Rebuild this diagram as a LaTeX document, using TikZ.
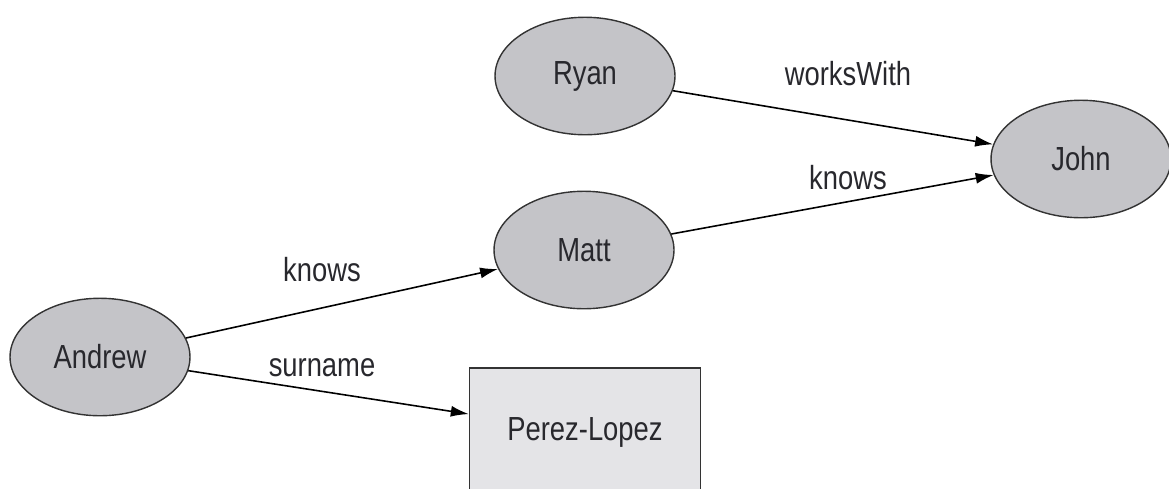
\documentclass[tikz,border=0pt]{standalone}
\usepackage{fontspec}
\setmainfont{Liberation Sans}[FakeStretch=0.82]
\usetikzlibrary{shapes.geometric, arrows.meta}
\definecolor{nodegray}{RGB}{196,196,200}
\definecolor{boxgray}{RGB}{228,228,231}
\definecolor{txtgray}{RGB}{40,40,45}
\tikzset{
  res/.style={ellipse, draw=black!80, fill=nodegray, line width=0.8pt,
    minimum width=3.6cm, minimum height=2.35cm, text=txtgray, font=\fontsize{19}{22}\selectfont},
  lit/.style={rectangle, draw=black!80, fill=boxgray, line width=0.8pt,
    minimum width=4.62cm, minimum height=2.56cm, text=txtgray, font=\fontsize{19}{22}\selectfont},
  lbl/.style={text=txtgray, font=\fontsize{19}{22}\selectfont},
}
\begin{document}
\begin{tikzpicture}[x=0.02cm, y=-0.02cm, >={Latex[length=3.6mm, width=2.2mm]}]
  \useasboundingbox (0,0) rectangle (1169,488);
  \node [res] (ryan) at (585,76) {Ryan};
  \node [res] (john) at (1081,159) {John};
  \node [res] (matt) at (584,250) {Matt};
  \node [res] (andrew) at (100,357) {Andrew};
  \node [lit] (perez) at (585,432) {Perez-Lopez};
  \node [lbl] (w) at (848,74) {worksWith};
  \node [lbl] (k1) at (848,178) {knows};
  \node [lbl] (k2) at (322,270) {knows};
  \node [lbl] (s) at (322,368) {surname};
  \draw [->, line width=0.9pt] (ryan) -- (john);
  \draw [->, line width=0.9pt] (matt) -- (john);
  \draw [->, line width=0.9pt] (andrew) -- (matt);
  \draw [->, line width=0.9pt] (andrew) -- (perez);
\end{tikzpicture}
\end{document}
